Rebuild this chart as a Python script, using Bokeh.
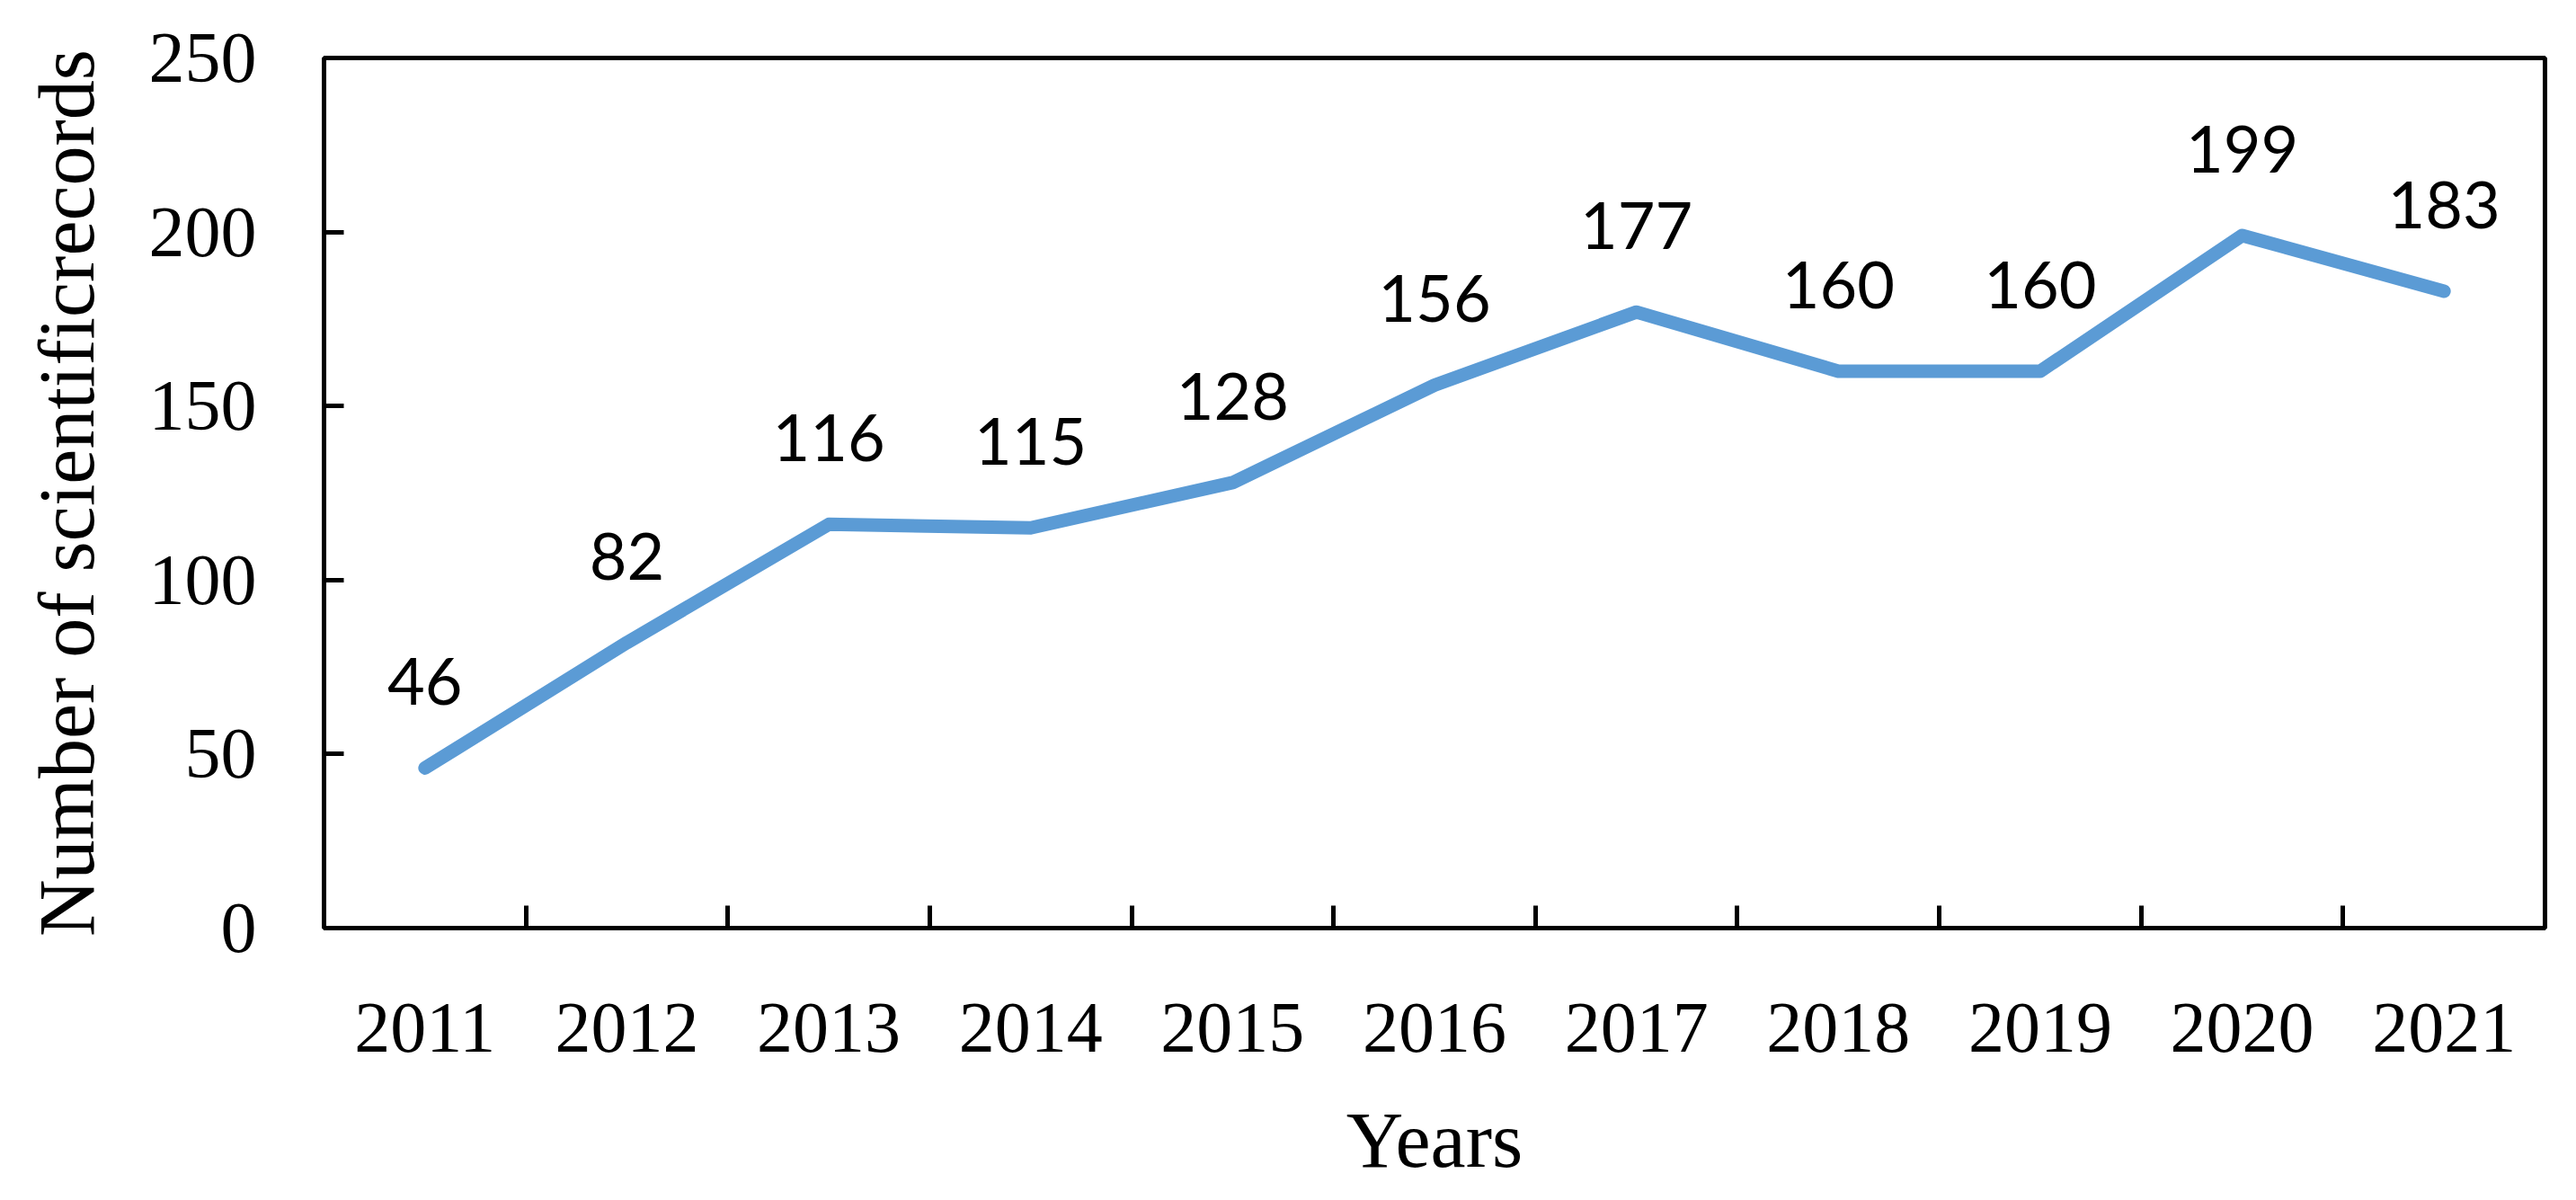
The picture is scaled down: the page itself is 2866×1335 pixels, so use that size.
from bokeh.plotting import figure
from bokeh.models import FixedTicker, Range1d
from bokeh.core.properties import value
from bokeh.embed import file_html
from bokeh.resources import INLINE

# ---- data ----
years = [2011, 2012, 2013, 2014, 2015, 2016, 2017, 2018, 2019, 2020, 2021]
records = [46, 82, 116, 115, 128, 156, 177, 160, 160, 199, 183]
year_labels = [str(y) for y in years]
y_ticks = [0, 50, 100, 150, 200, 250]
x_title = "Years"
y_title = "Number of scientificrecords"

# ---- style ----
LINE_COLOR = "#5B9BD5"
SERIF = "Liberation Serif"
SANS = "Lato"

p = figure(width=2850, height=1319, output_backend="svg", toolbar_location=None,
           x_range=Range1d(years[0] - 0.5, years[-1] + 0.5),
           y_range=Range1d(y_ticks[0], y_ticks[-1]),
           min_border_left=360, min_border_right=19, min_border_top=64, min_border_bottom=284)

p.background_fill_color = "white"
p.border_fill_color = "white"
p.outline_line_color = "black"
p.outline_line_width = 5
p.xgrid.visible = False
p.ygrid.visible = False

# x axis: labels at category centres, tick marks between categories (minor ticks)
p.xaxis.ticker = FixedTicker(ticks=years, minor_ticks=[y + 0.5 for y in years[:-1]])
p.xaxis.major_label_overrides = {y: s for y, s in zip(years, year_labels)}
p.xaxis.major_tick_in = 0
p.xaxis.major_tick_out = 0
p.xaxis.minor_tick_in = 25
p.xaxis.minor_tick_out = 0
p.xaxis.minor_tick_line_width = 5
p.xaxis.minor_tick_line_color = "black"
p.xaxis.axis_line_width = 5
p.xaxis.axis_line_color = "black"
p.xaxis.major_label_text_font = SERIF
p.xaxis.major_label_text_font_size = "80px"
p.xaxis.major_label_text_color = "black"
p.xaxis.major_label_standoff = 84
p.xaxis.axis_label = x_title
p.xaxis.axis_label_text_font = SERIF
p.xaxis.axis_label_text_font_size = "88px"
p.xaxis.axis_label_text_font_style = "normal"
p.xaxis.axis_label_text_color = "black"
p.xaxis.axis_label_standoff = 47

# y axis
p.yaxis.ticker = FixedTicker(ticks=y_ticks, minor_ticks=[])
p.yaxis.major_tick_in = 22
p.yaxis.major_tick_out = 0
p.yaxis.major_tick_line_width = 5
p.yaxis.major_tick_line_color = "black"
p.yaxis.minor_tick_in = 0
p.yaxis.minor_tick_out = 0
p.yaxis.axis_line_width = 5
p.yaxis.axis_line_color = "black"
p.yaxis.major_label_text_font = SERIF
p.yaxis.major_label_text_font_size = "80px"
p.yaxis.major_label_text_color = "black"
p.yaxis.major_label_standoff = 75
p.yaxis.axis_label = y_title
p.yaxis.axis_label_text_font = SERIF
p.yaxis.axis_label_text_font_size = "88px"
p.yaxis.axis_label_text_font_style = "normal"
p.yaxis.axis_label_text_color = "black"
p.yaxis.axis_label_standoff = 40

# series
p.line(years, records, line_width=15, line_color=LINE_COLOR,
       line_cap="round", line_join="round")

# data labels
p.text(x=years, y=records, text=[str(v) for v in records],
       text_font=value(SANS), text_font_size="72px", text_color="black",
       text_align="center", text_baseline="middle", y_offset=-96)

open("out.html", "w").write(file_html(p, INLINE))
